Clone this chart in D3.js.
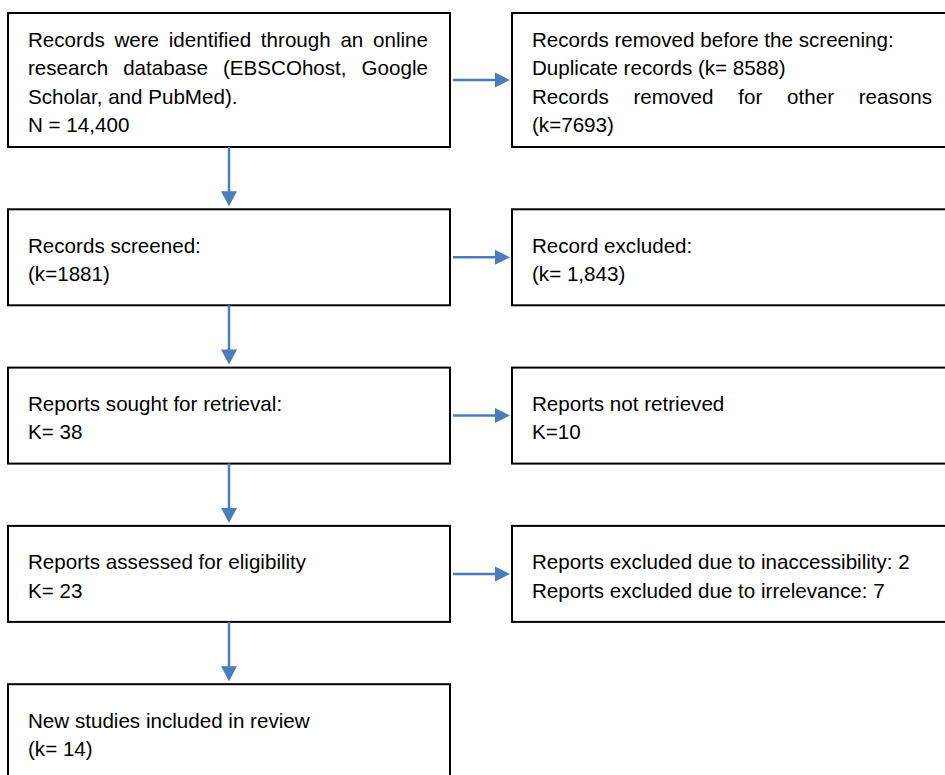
<!DOCTYPE html>
<html>
<head>
<meta charset="utf-8">
<script src="https://cdnjs.cloudflare.com/ajax/libs/d3/7.8.5/d3.min.js"></script>
<style>
  body { margin: 0; background: #fff; }
  svg { display: block; }
</style>
</head>
<body>
<svg id="flow"></svg>
<script>
"use strict";

// PRISMA flow: each box is a list of paragraphs, each paragraph a list of lines
// (every line but the last of a paragraph is justified, as in the Word original)
let stageText = [
  [["Records were identified through an online", "research database (EBSCOhost, Google", "Scholar, and PubMed)."], ["N = 14,400"]],
  [["Records screened:"], ["(k=1881)"]],
  [["Reports sought for retrieval:"], ["K= 38"]],
  [["Reports assessed for eligibility"], ["K= 23"]],
  [["New studies included in review"], ["(k= 14)"]]
];

let removedText = [
  [["Records removed before the screening:"], ["Duplicate records (k= 8588)"], ["Records removed for other reasons", "(k=7693)"]],
  [["Record excluded:"], ["(k= 1,843)"]],
  [["Reports not retrieved"], ["K=10"]],
  [["Reports excluded due to inaccessibility: 2"], ["Reports excluded due to irrelevance: 7"]]
];

let rowHeights = [134, 96, 96, 96, 96];

const W = 945, H = 775;
const rowGap = 62.3, top0 = 13;
const boxW = 442, textW = 400, pad = 20;
const fontSize = 20.6, lineH = 28.4;
const blue = "#4a7ebb";

let svg = d3.select("#flow")
  .attr("width", W)
  .attr("height", H);

svg.append("rect").attr("width", W).attr("height", H).attr("fill", "#fff");

// row tops accumulate from box heights
let tops = [];
rowHeights.reduce((y, h) => { tops.push(y); return y + h + rowGap; }, top0);

let x = d3.scaleOrdinal().domain(["stage", "removed"]).range([8, 512]);
let y = d3.scaleOrdinal().domain(d3.range(rowHeights.length)).range(tops);
let hgt = d3.scaleOrdinal().domain(d3.range(rowHeights.length)).range(rowHeights);

let boxes = stageText.map((t, i) => ({ col: "stage", row: i, text: t }))
  .concat(removedText.map((t, i) => ({ col: "removed", row: i, text: t })));

// measuring helper
let probe = svg.append("text")
  .attr("font-family", "Arial, 'Liberation Sans', sans-serif")
  .attr("font-size", fontSize)
  .attr("visibility", "hidden");
let measure = (s) => probe.text(s).node().getComputedTextLength();

let g = svg.selectAll("g.box")
  .data(boxes)
  .enter()
  .append("g")
  .attr("class", "box");

g.append("rect")
  .attr("x", (d) => x(d.col))
  .attr("y", (d) => y(d.row))
  .attr("width", boxW)
  .attr("height", (d) => hgt(d.row))
  .attr("fill", "#fff")
  .attr("stroke", "#000")
  .attr("stroke-width", 2);

g.each(function (d) {
  let lines = [];
  d.text.forEach((para) => {
    para.forEach((ln, k) => lines.push({ s: ln, just: k < para.length - 1 }));
  });
  let cy = y(d.row) + hgt(d.row) / 2;
  let first = cy - (lines.length - 1) * lineH / 2 + 9.5;
  let x0 = x(d.col) + pad;
  let sel = d3.select(this);

  lines.forEach((ln, i) => {
    let t = sel.append("text")
      .attr("font-family", "Arial, 'Liberation Sans', sans-serif")
      .attr("font-size", fontSize)
      .attr("fill", "#000")
      .attr("y", first + i * lineH);
    if (!ln.just) {
      t.attr("x", x0).text(ln.s);
      return;
    }
    let words = ln.s.split(" ");
    let widths = words.map(measure);
    let gap = (textW - d3.sum(widths)) / (words.length - 1);
    let cx = x0;
    words.forEach((w, j) => {
      t.append("tspan").attr("x", cx).text(w);
      cx += widths[j] + gap;
    });
  });
});

probe.remove();

// arrows
let arrows = svg.append("g")
  .attr("fill", blue)
  .attr("stroke", blue);

let midX = x("stage") + boxW / 2;

// vertical: between consecutive stages
d3.range(rowHeights.length - 1).forEach((i) => {
  let y1 = y(i) + hgt(i);
  let y2 = y(i + 1) - 3;
  arrows.append("line")
    .attr("x1", midX).attr("x2", midX)
    .attr("y1", y1).attr("y2", y2 - 12)
    .attr("stroke-width", 2.5);
  let p = d3.path();
  p.moveTo(midX - 8, y2 - 15);
  p.lineTo(midX + 8, y2 - 15);
  p.lineTo(midX, y2);
  p.closePath();
  arrows.append("path").attr("d", p.toString()).attr("stroke", "none");
});

// horizontal: stage -> removed
removedText.forEach((t, i) => {
  let cy = y(i) + hgt(i) / 2;
  let x1 = x("stage") + boxW + 3;
  let x2 = x("removed") - 2;
  arrows.append("line")
    .attr("x1", x1).attr("x2", x2 - 12)
    .attr("y1", cy).attr("y2", cy)
    .attr("stroke-width", 2.5);
  let p = d3.path();
  p.moveTo(x2 - 15, cy - 7.5);
  p.lineTo(x2 - 15, cy + 7.5);
  p.lineTo(x2, cy);
  p.closePath();
  arrows.append("path").attr("d", p.toString()).attr("stroke", "none");
});
</script>
</body>
</html>
